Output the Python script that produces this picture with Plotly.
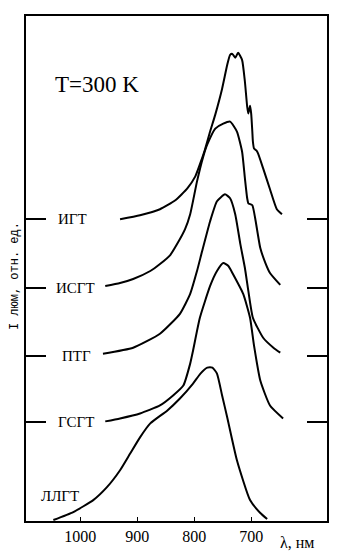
import plotly.graph_objects as go

# Wavelength (nm) and relative luminescence intensity for each glass
names = ["ИГТ", "ИСГТ", "ПТГ", "ГСГТ", "ЛЛГТ"]
offsets = [303, 234, 166, 99, 0]

igt_wl = [930, 895, 860, 833, 812, 798, 790, 781, 772, 763, 751, 742, 737, 733, 728,
          723, 716, 711, 707, 705, 702, 700, 698, 697, 695, 691, 688, 679, 667, 655, 646]
igt_i = [0, 4, 10, 19, 31, 43, 55, 70, 88, 105, 131, 155, 165, 166, 162,
         167, 160, 138, 113, 106, 114, 106, 88, 78, 71, 69, 66, 51, 30, 10, 5]

isgt_wl = [956, 930, 907, 877, 860, 842, 830, 816, 807, 795, 784, 777, 763, 749, 737,
           725, 716, 711, 707, 705, 698, 693, 684, 675, 667, 649]
isgt_i = [2, 5, 9, 17, 24, 33, 44, 59, 74, 107, 132, 144, 160, 165, 167,
          157, 137, 110, 90, 85, 83, 70, 40, 25, 15, 3]

ptg_wl = [960, 907, 860, 825, 807, 795, 786, 772, 760, 746, 737, 728, 719, 711, 705,
          697, 679, 661, 649]
ptg_i = [2, 8, 22, 42, 62, 85, 105, 135, 155, 162, 158, 142, 112, 88, 65,
         38, 18, 8, 3]

gsgt_wl = [956, 930, 895, 860, 837, 819, 807, 802, 790, 772, 760, 749, 740, 732, 714,
           702, 695, 684, 667, 644]
gsgt_i = [1, 4, 9, 17, 27, 37, 59, 72, 105, 137, 152, 160, 157, 149, 129,
          105, 77, 42, 17, 4]

llgt_wl = [1047, 1012, 977, 953, 930, 912, 895, 877, 847, 825, 802, 789, 777, 768, 760,
           751, 742, 725, 702, 684, 672]
llgt_i = [1, 9, 21, 34, 51, 68, 84, 98, 111, 123, 138, 148, 154, 154, 148,
          126, 104, 61, 21, 8, 2]

series_wl = [igt_wl, isgt_wl, ptg_wl, gsgt_wl, llgt_wl]
series_i = [igt_i, isgt_i, ptg_i, gsgt_i, llgt_i]

# label positions (wavelength, level above own baseline)
label_wl = [1014, 1009, 1007, 1007, 1035]
label_dy = [0, 0, 0, 0, 25]

x_ticks = [1000, 900, 800, 700]
x_range = [1095, 567]
y_range = [0, 507]

fig = go.Figure()
for wl, inten, off in zip(series_wl, series_i, offsets):
    fig.add_trace(go.Scatter(
        x=wl, y=[v + off for v in inten], mode="lines", line_shape="spline",
        line=dict(color="black", width=2, smoothing=0.5), showlegend=False,
        hoverinfo="skip"))

serif = "'Times New Roman', 'Liberation Serif', serif"
mono = "'Courier New', 'Liberation Mono', monospace"

for name, lw, off, dy in zip(names, label_wl, offsets, label_dy):
    fig.add_annotation(x=lw, y=off + dy, text=name, showarrow=False,
                       font=dict(family=serif, size=15, color="black"),
                       xanchor="center", yanchor="middle", bgcolor="white")

fig.add_annotation(x=970, y=438, text="T=300 K", showarrow=False,
                   font=dict(family=serif, size=23, color="black"),
                   xanchor="center", yanchor="middle")

fig.add_annotation(xref="paper", yref="paper", x=0, y=0.485, xshift=-11,
                   text="I люм, отн. ед.", textangle=-90, showarrow=False,
                   font=dict(family=mono, size=12, color="black"),
                   xanchor="center", yanchor="middle")

fig.add_annotation(xref="paper", yref="paper", x=0.9, y=0, yshift=-21,
                   text="λ, нм", showarrow=False,
                   font=dict(family=serif, size=16, color="black"),
                   xanchor="center", yanchor="middle")

fig.update_xaxes(range=x_range, tickvals=x_ticks, ticktext=[str(v) for v in x_ticks],
                 showgrid=False, zeroline=False, showline=True, linecolor="black",
                 linewidth=2, mirror=True, ticks="inside", ticklen=4, tickwidth=1,
                 tickcolor="black",
                 tickfont=dict(family=serif, size=16, color="black"))
fig.update_yaxes(range=y_range, tickvals=offsets[:4], showticklabels=False,
                 showgrid=False, zeroline=False, showline=True, linecolor="black",
                 linewidth=2, mirror="ticks", ticks="inside", ticklen=20, tickwidth=2,
                 tickcolor="black")

# page body has an 8px default margin, so the figure is sized to fit the window
fig.update_layout(width=356, height=547, margin=dict(l=18, r=37, t=6, b=34),
                  plot_bgcolor="white", paper_bgcolor="white")

fig.write_html("out.html")
